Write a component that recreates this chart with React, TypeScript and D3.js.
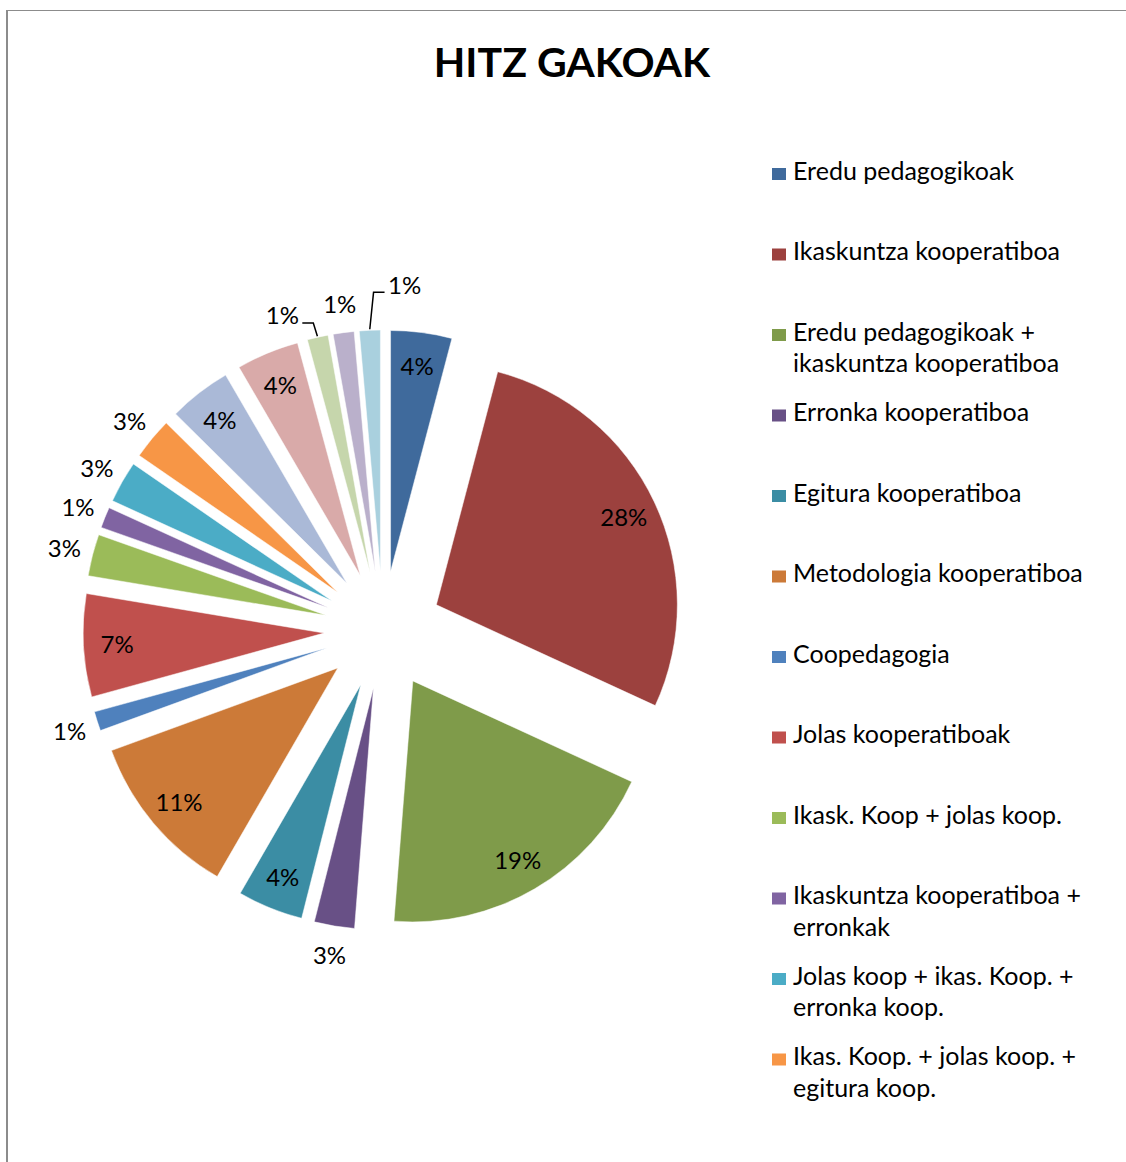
import React from "react";
import * as d3 from "d3";

const title = "HITZ GAKOAK";

const values = [4.1, 27.8, 19.4, 2.7, 4.4, 11.1, 1.3, 6.9, 2.8, 1.4, 2.8, 2.8, 4.2, 4.2, 1.4, 1.4, 1.4];

const colors = [
  "#3F6A9C", "#9C413E", "#7F9B4A", "#685086", "#3B8DA4", "#CC7A38",
  "#4F81BD", "#C0504D", "#9BBB59", "#8064A2", "#4BACC6", "#F79646",
  "#AAB9D7", "#D9AAA9", "#C6D6AC", "#BAB0CB", "#A9D0DE",
];

const legendNames = [
  "Eredu pedagogikoak",
  "Ikaskuntza kooperatiboa",
  "Eredu pedagogikoak +\nikaskuntza kooperatiboa",
  "Erronka kooperatiboa",
  "Egitura kooperatiboa",
  "Metodologia kooperatiboa",
  "Coopedagogia",
  "Jolas kooperatiboak",
  "Ikask. Koop + jolas koop.",
  "Ikaskuntza kooperatiboa +\nerronkak",
  "Jolas koop + ikas. Koop. +\nerronka koop.",
  "Ikas. Koop. + jolas koop. +\negitura koop.",
];

// layout constants
const W = 1126;
const H = 1162;
const CX = 383;
const CY = 630;
const R = 241;
const EXPLODE = 59;
const FONT = "Lato, 'Open Sans', sans-serif";
const leaderShift: Record<number, [number, number]> = { 14: [-29, 6], 16: [36, -17] };

export default function App() {
  const pie = d3.pie<number>().sort(null).value((d) => d).startAngle(0).endAngle(2 * Math.PI);
  const arcs = pie(values);
  const arcGen = d3.arc<d3.PieArcDatum<number>>().innerRadius(0).outerRadius(R);

  const slices = arcs.map((a, i) => {
    const mid = (a.startAngle + a.endAngle) / 2;
    const ux = Math.sin(mid);
    const uy = -Math.cos(mid);
    const tx = CX + EXPLODE * ux;
    const ty = CY + EXPLODE * uy;
    const inside = a.data >= 4;
    const rl = inside ? R * 0.86 : R + 29;
    let lx = tx + rl * ux;
    let ly = ty + rl * uy;
    let leader: string | null = null;
    if (leaderShift[i]) {
      lx += leaderShift[i][0];
      ly += leaderShift[i][1];
      const px = tx + (R + 1) * ux;
      const py = ty + (R + 1) * uy;
      const side = Math.sign(px - lx);
      const lineY = ly + 8;
      const ex = lx + side * 20;
      const kx = ex + side * 11;
      leader = `M${px},${py}L${kx},${lineY}L${ex},${lineY}`;
    }
    return { a, i, tx, ty, lx, ly, leader, label: `${Math.round(a.data)}%` };
  });

  const legendX = 772;
  const legendBase0 = 179.5;
  const legendStep = 80.5;

  return (
    <svg
      width={W}
      height={H}
      style={{ position: "absolute", left: 0, top: 0, background: "#fff" }}
      fontFamily={FONT}
    >
      <rect x={0} y={0} width={W} height={H} fill="#fff" />
      <line x1={7} y1={10.5} x2={W} y2={10.5} stroke="#8c8c8c" strokeWidth={1} />
      <line x1={7} y1={10} x2={7} y2={H} stroke="#8c8c8c" strokeWidth={2} />

      <text x={572} y={77} textAnchor="middle" fontSize={41} fontWeight="bold" fill="#000">
        {title}
      </text>

      {slices.map((s) => (
        <path
          key={s.i}
          d={arcGen(s.a) || ""}
          transform={`translate(${s.tx},${s.ty})`}
          fill={colors[s.i]}
          stroke="#fff"
          strokeWidth={0.5}
        />
      ))}
      {slices.map((s) =>
        s.leader ? <path key={"l" + s.i} d={s.leader} fill="none" stroke="#000" strokeWidth={1.5} /> : null
      )}
      {slices.map((s) => (
        <text
          key={"t" + s.i}
          x={s.lx}
          y={s.ly}
          textAnchor="middle"
          dominantBaseline="central"
          fontSize={24}
          fill="#000"
        >
          {s.label}
        </text>
      ))}

      {legendNames.map((name, i) => {
        const base = legendBase0 + i * legendStep;
        const lines = name.split("\n");
        return (
          <g key={"lg" + i}>
            <rect x={legendX} y={base - 11.5} width={14} height={12} fill={colors[i]} />
            {lines.map((ln, j) => (
              <text key={j} x={legendX + 21} y={base + j * 31.5} fontSize={25} fill="#000">
                {ln}
              </text>
            ))}
          </g>
        );
      })}
    </svg>
  );
}
